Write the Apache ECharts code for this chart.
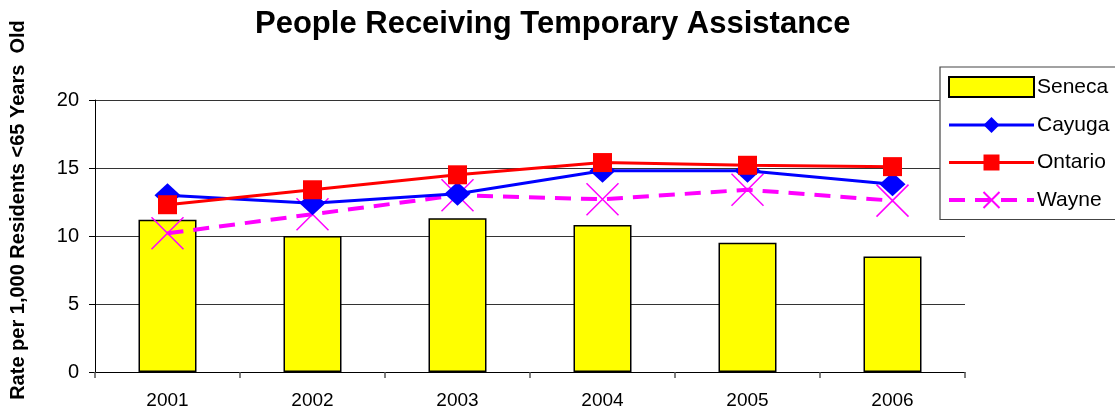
<!DOCTYPE html>
<html>
<head>
<meta charset="utf-8">
<script src="https://cdn.jsdelivr.net/npm/echarts@6/dist/echarts.min.js"></script>
<style>
  html, body { margin: 0; padding: 0; background: #fff; }
  #chart { width: 1115px; height: 412px; }
</style>
</head>
<body>
<div id="chart"></div>
<script>
const years = ["2001", "2002", "2003", "2004", "2005", "2006"];
const seneca = [11.2, 10.0, 11.3, 10.8, 9.5, 8.5];
const cayuga = [13.0, 12.4, 13.1, 14.8, 14.8, 13.8];
const ontario = [12.3, 13.4, 14.5, 15.4, 15.2, 15.1];
const wayne = [10.2, 11.6, 13.0, 12.7, 13.4, 12.6];
const yTicks = [0, 5, 10, 15, 20];

const font = "Liberation Sans, Arial, sans-serif";
const xMark = "path://M0,0L10,10M10,0L0,10";

var myChart = echarts.init(document.getElementById("chart"));

myChart.setOption({
  animation: false,
  backgroundColor: "#fff",
  title: {
    text: "People Receiving Temporary Assistance",
    left: 250,
    top: 4,
    textStyle: { fontFamily: font, fontSize: 31, fontWeight: "bold", color: "#000" },
  },
  // y axis title sits higher than the plot middle, so place it by hand
  graphic: [
    {
      type: "text",
      x: 18,
      y: 210,
      rotation: Math.PI / 2,
      style: {
        text: "Rate per 1,000 Residents <65 Years  Old",
        fontFamily: font,
        fontSize: 20,
        fontWeight: "bold",
        fill: "#000",
        align: "center",
        verticalAlign: "middle",
      },
    },
  ],
  legend: {
    orient: "vertical",
    left: 940,
    top: 67,
    width: 220,
    padding: [9, 20, 9, 7],
    itemGap: 16.5,
    itemWidth: 85,
    itemHeight: 20,
    backgroundColor: "#fff",
    borderColor: "#444",
    borderWidth: 1.2,
    textStyle: { fontFamily: font, fontSize: 21, color: "#000", padding: [0, 0, 0, -2] },
    data: [
      { name: "Seneca", icon: "rect" },
      { name: "Cayuga", lineStyle: { width: 3 } },
      { name: "Ontario", lineStyle: { width: 3 } },
      { name: "Wayne", lineStyle: { width: 4 } },
    ],
  },
  grid: { left: 95, right: 150, top: 100, bottom: 40, outerBoundsMode: "none", containLabel: false },
  xAxis: {
    type: "category",
    data: years,
    axisLine: { lineStyle: { color: "#000", width: 1 } },
    axisTick: { show: true, length: 6, lineStyle: { color: "#555", width: 1.5 } },
    axisLabel: { fontFamily: font, fontSize: 19, color: "#000", margin: 19 },
  },
  yAxis: {
    type: "value",
    min: 0,
    max: 20,
    interval: 5,
    axisLine: { show: true, lineStyle: { color: "#000", width: 1 } },
    axisTick: { show: true, length: 6, lineStyle: { color: "#000" } },
    axisLabel: {
      fontFamily: font,
      fontSize: 20,
      color: "#000",
      margin: 16,
      formatter: (v) => (yTicks.includes(v) ? String(v) : ""),
    },
    splitLine: { lineStyle: { color: "#333", width: 1 } },
  },
  series: [
    {
      name: "Seneca",
      type: "bar",
      data: seneca,
      barWidth: 58,
      itemStyle: { color: "#FFFF00", borderColor: "#000", borderWidth: 1.5 },
    },
    {
      name: "Cayuga",
      type: "line",
      data: cayuga,
      symbol: "diamond",
      symbolSize: [26, 24],
      itemStyle: { color: "#0000FF" },
      lineStyle: { color: "#0000FF", width: 3 },
      z: 3,
    },
    {
      name: "Ontario",
      type: "line",
      data: ontario,
      symbol: "rect",
      symbolSize: 19,
      itemStyle: { color: "#FF0000" },
      lineStyle: { color: "#FF0000", width: 3 },
      z: 4,
    },
    {
      name: "Wayne",
      type: "line",
      data: wayne,
      symbol: xMark,
      symbolSize: 32,
      itemStyle: { color: "#FF00FF", borderColor: "#FF00FF", borderWidth: 1.5 },
      lineStyle: { color: "#FF00FF", width: 4, type: [16, 10] },
      z: 2,
    },
  ],
});
</script>
</body>
</html>
